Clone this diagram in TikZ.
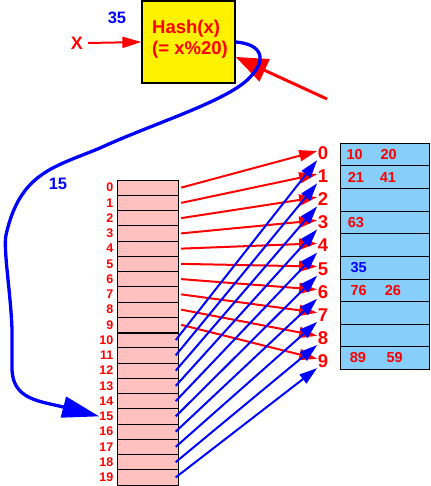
\documentclass[tikz,border=0pt]{standalone}
\usepackage{fontspec}
\setmainfont{Liberation Sans}
\usetikzlibrary{arrows.meta,calc,positioning}
\definecolor{cellpink}{HTML}{FFC0C0}
\definecolor{cellblue}{HTML}{87CEFA}
\begin{document}
\begin{tikzpicture}[x=1pt,y=-1pt,
  rowcell/.style={draw, fill=cellpink, minimum width=61pt, minimum height=15.25pt, inner sep=0pt, line width=0.8pt},
  rowlab/.style={text=red, font=\fontsize{12.5}{13}\selectfont\bfseries, anchor=east, inner sep=0pt},
  bucket/.style={draw, fill=cellblue, minimum width=88.3pt, minimum height=22.6pt, inner sep=0pt, line width=0.8pt},
  buclab/.style={text=red, font=\fontsize{18.5}{18.5}\selectfont\bfseries, inner sep=0.5pt, text height=13pt, text depth=0pt},
  val/.style={font=\fontsize{14.5}{14.5}\selectfont\bfseries, inner sep=0pt, anchor=west, text=red},
  keylab/.style={text=blue, font=\fontsize{16.5}{16.5}\selectfont\bfseries, inner sep=0pt},
  redarrow/.style={red, line width=2pt, -{Triangle[length=18pt,width=11pt]}},
  bluearrow/.style={blue, line width=2pt, -{Triangle[length=18pt,width=11pt]}}]
\useasboundingbox (0,0) rectangle (430,486);

% left table
\foreach \i in {0,...,19} {
  \node[rowcell] (r\i) at (147.8, {180+15.25*(\i+0.5)}) {};
  \node[rowlab] (n\i) at (113.5, {180+15.25*(\i+0.5)}) {\i};
}
\draw[line width=1.8pt] (r9.south west) -- (r9.south east);

% bucket labels and buckets
\foreach \i in {0,...,9} {
  \node[buclab] (l\i) at (323, {153+23.1*\i}) {\i};
  \node[bucket] (b\i) at (384.85, {143.3+22.6*(\i+0.5)}) {};
}

% values in buckets
\node[val, right=6pt of b0.west] (v10) {10};
\node[val, right=40pt of b0.west] (v20) {20};
\node[val, right=7.3pt of b1.west] (v21) {21};
\node[val, right=39.3pt of b1.west] (v41) {41};
\node[val, right=7.3pt of b3.west] (v63) {63};
\node[val, right=10pt of b5.west, text=blue] (v35) {35};
\node[val, right=10pt of b6.west] (v76) {76};
\node[val, right=44.3pt of b6.west] (v26) {26};
\node[val, right=9.3pt of b9.west] (v89) {89};
\node[val, right=46pt of b9.west] (v59) {59};

% arrows from table rows to bucket labels
\foreach \i in {0,...,9}
  \draw[redarrow] ([xshift=2.5pt]r\i.east) -- ([yshift=2pt]l\i.west);
\foreach \i [count=\j from 10] in {0,...,9}
  \draw[bluearrow] ([xshift=-3pt]r\j.east) -- (l\i.south west);

% hash box
\node[draw, fill=yellow, line width=1.2pt, minimum width=93pt, minimum height=82pt, inner sep=0pt] (hash) at (188.5,42) {};
\node[text=red, font=\fontsize{18.5}{20.5}\selectfont\bfseries, align=left, inner sep=0pt] (htxt) at (190,39) {Hash(x)\\(= x\%20)};

\node[text=red, font=\fontsize{18}{18}\selectfont\bfseries, inner sep=0pt] (X) at (77,43) {X};
\draw[red, line width=2pt, -{Triangle[length=19pt,width=11pt]}] ([xshift=5pt]X.east) -- (hash.west);

\node[keylab] (k35) at (117,18) {35};
\node[keylab] (k15) at (58,183.5) {15};

\coordinate (rstart) at (327,99);
\draw[red, line width=3pt, -{Triangle[length=32pt,width=24pt]}] (rstart) -- ($(hash.north east)!0.68!(hash.south east)$);

% blue curve to row 15
\draw[blue, line width=3.3pt, -{Triangle[length=37pt,width=21pt]}]
  (hash.east) .. controls (262,44) and (270,60) .. (245,82)
  .. controls (218,104) and (150,125) .. (100,148)
  .. controls (55,167) and (20,172) .. (6,235)
  .. controls (3,248.5) and (11,295) .. (12,330)
  -- (12,368)
  .. controls (12,400) and (40,401) .. (n15.west);
\end{tikzpicture}
\end{document}
